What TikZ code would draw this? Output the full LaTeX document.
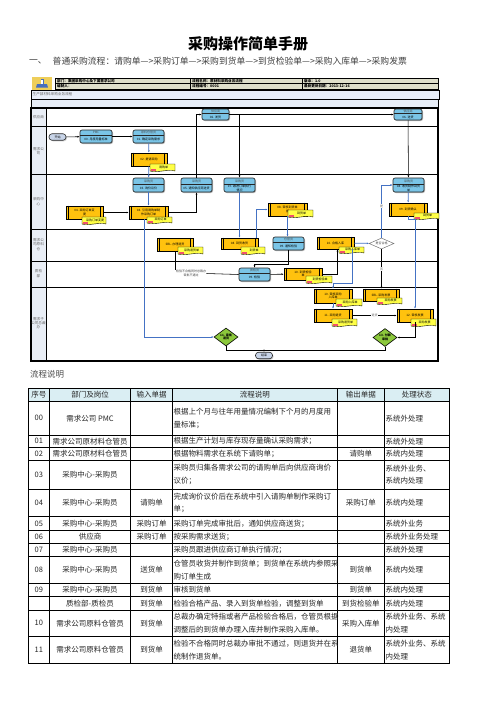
\documentclass[tikz,border=0pt]{standalone}
\usepackage{fontspec}
\setmainfont{Noto Sans CJK SC}
\usetikzlibrary{shapes.geometric,calc,arrows.meta,shadows}
\definecolor{bluef}{RGB}{122,196,230}
\definecolor{yelf}{RGB}{255,194,14}
\definecolor{tagf}{RGB}{255,255,70}
\definecolor{tagr}{RGB}{240,80,110}
\definecolor{greenf}{RGB}{140,200,60}
\definecolor{hdrf}{RGB}{222,222,202}
\definecolor{bandf}{RGB}{232,238,248}
\definecolor{lanef}{RGB}{233,238,246}
\definecolor{theadf}{RGB}{218,238,243}
\definecolor{bline}{RGB}{68,114,196}
\definecolor{ovalf}{RGB}{200,212,232}
\definecolor{logoy}{RGB}{238,206,90}
\definecolor{logob}{RGB}{70,110,190}
\tikzset{
  boxtxt/.style={font=\fontsize{3}{3.6}\selectfont, inner sep=0pt, align=center, text=black},
  hdtxt/.style={font=\fontsize{3.6}{4}\selectfont\bfseries, inner sep=0pt, anchor=west, text=black},
  lanetxt/.style={font=\fontsize{3.6}{4.3}\selectfont, inner sep=0pt, align=center, text=black!60},
  bbx/.style={draw=black!85, line width=0.65pt, rounded corners=2pt, fill=bluef, inner sep=0pt,
     drop shadow={shadow xshift=1pt, shadow yshift=-1pt, fill=black!45, opacity=0.6}},
  ybx/.style={draw=black, line width=0.6pt, fill=yelf, inner sep=0pt},
  tagst/.style={draw=black, line width=0.4pt, fill=tagf},
  endst/.style={draw=black!85, line width=0.6pt, rounded corners=3pt, fill=ovalf, inner sep=0pt,
     minimum width=17pt, minimum height=6.5pt, font=\fontsize{3}{3.6}\selectfont,
     drop shadow={shadow xshift=1pt, shadow yshift=-1pt, fill=black!30, opacity=0.6}},
  gdia/.style={diamond, draw=black, line width=0.6pt, fill=greenf, inner sep=0pt, aspect=1.3,
     minimum width=24pt, minimum height=18pt, align=center, font=\fontsize{3}{3.6}\selectfont\bfseries},
  wdia/.style={diamond, draw=black!55, line width=0.5pt, fill=white, inner sep=0pt, aspect=2.3,
     minimum width=25pt, minimum height=11pt, font=\fontsize{3}{3.6}\selectfont, text=black!70},
  bk/.style={draw=black, line width=0.55pt},
  bl/.style={draw=bline, line width=0.75pt},
  lbl/.style={fill=white, inner sep=0.3pt, font=\fontsize{3}{3.6}\selectfont, text=black!60},
  notetxt/.style={font=\fontsize{3}{3.6}\selectfont, inner sep=0.3pt, align=center, text=black!75, fill=white},
  celltxt/.style={font=\fontsize{7.5}{12.7}\selectfont, inner sep=0pt, text=black!85},
  tline/.style={draw=black, line width=0.6pt},
}
\newcounter{cellno}
\newcommand\mycell[3]{\stepcounter{cellno}\node[celltxt, align=center] (cell\arabic{cellno}) at (#1,#2) {#3};}
\newcommand\mycellL[3]{\stepcounter{cellno}\node[celltxt, align=left, anchor=west] (cell\arabic{cellno}) at (#1,#2) {#3};}
\newcommand\bluebox[7]{%
  \node[bbx, minimum width=#4pt, minimum height=#5pt] (#1) at (#2,#3) {};
  \draw[line width=0.45pt, black!85] ($(#1.north west)!0.42!(#1.south west)$) -- ($(#1.north east)!0.42!(#1.south east)$);
  \node[boxtxt, text=black!70] (#1h) at ($(#1.north)!0.22!(#1.south)$) {#6};
  \node[boxtxt] (#1b) at ($(#1.north)!0.71!(#1.south)$) {#7};}
\newcommand\ybox[6]{%
  \node[ybx, minimum width=#4pt, minimum height=#5pt] (#1) at (#2,#3) {};
  \draw[line width=0.5pt] ([xshift=3pt]#1.north west) -- ([xshift=3pt]#1.south west);
  \draw[line width=0.5pt] ([xshift=-3pt]#1.north east) -- ([xshift=-3pt]#1.south east);
  \node[boxtxt] (#1t) at (#1) {#6};}
\newcommand\tagbox[6]{%
  \draw[tagst] (#2,#3) -- (#2+#4,#3) -- (#2+#4,#3+#5) .. controls (#2+0.7*#4,#3+#5-2) and (#2+0.3*#4,#3+#5+2) .. (#2,#3+#5) -- cycle;
  \fill[tagr] (#2+1,#3+#5-2.2) rectangle (#2+6,#3+#5-0.5);
  \node[boxtxt] (#1) at (#2+#4/2+1,#3+#5/2-0.6) {#6};}
\newcommand\arr{—>}
\begin{document}
\begin{tikzpicture}[x=1pt, y=-1pt, >={Latex[length=2.2pt,width=1.8pt]}]
\useasboundingbox (0,0) rectangle (496,702);
\fill[white] (0,0) rectangle (496,702);
% title
\node[font=\fontsize{15}{16}\selectfont\bfseries, inner sep=0pt] (title) at (248,44) {采购操作简单手册};
\node[font=\fontsize{8.8}{10}\selectfont, text=black!75, inner sep=0pt, anchor=west] (sub0) at (29,61.5) {一、};
\node[font=\fontsize{8.8}{10}\selectfont, text=black!75, inner sep=0pt, anchor=west] (sub1) at (52.5,61.5) {普通采购流程：请购单\arr 采购订单\arr 采购到货单\arr 到货检验单\arr 采购入库单\arr 采购发票};
% logo
\fill[logoy] (32,77) rectangle (52,89.5);
\fill[logob] (40.5,78.5) rectangle (43.5,84);
\fill[logob] (37,84) -- (47,84) -- (48,87.5) -- (36,87.5) -- cycle;
\fill[white] (41.2,79.5) rectangle (42.8,83.5);
\node[inner sep=0pt] (logo) at (42,83) {};
% header table
\fill[hdrf] (55,78) rectangle (438,89);
\draw[line width=0.6pt] (55,78) rectangle (438,89);
\draw[line width=0.4pt] (55,83.5) -- (438,83.5) (190,78) -- (190,89) (302,78) -- (302,89);
\node[hdtxt] (h1) at (57,80.9) {部门：集团采购中心及下属需求公司};
\node[hdtxt] (h2) at (57,86.3) {编制人：};
\node[hdtxt] (h3) at (192,80.9) {流程名称：原材料采购业务流程};
\node[hdtxt] (h4) at (192,86.3) {流程编号：0001};
\node[hdtxt] (h5) at (304,80.9) {版本：1.0};
\node[hdtxt] (h6) at (304,86.3) {最新更新日期：2013-12-16};
% bands
\draw[fill=bandf, line width=0.5pt] (31,90) rectangle (439,99);
\draw[fill=bandf, line width=0.5pt] (31,99) rectangle (438,108);
\node[lanetxt, anchor=west] (band) at (32.5,94.5) {生产部材料采购业务流程};
% swimlanes
\fill[lanef] (31,108) rectangle (46,361);
\draw[line width=0.6pt] (46,108) -- (46,361);
\foreach \yy in {126.7,174,229.3,261,287} \draw[line width=0.6pt] (31,\yy) -- (438,\yy);
\draw[line width=1.1pt] (31,108) rectangle (438,361);
\node[lanetxt] (L1) at (38.5,117) {供应商};
\node[lanetxt] (L2) at (38.5,151) {需求公\\司};
\node[lanetxt] (L3) at (38.5,201.5) {采购中\\心};
\node[lanetxt] (L4) at (38.5,244.5) {需求公\\司原料\\仓};
\node[lanetxt] (L5) at (38.5,273.5) {质检\\部};
\node[lanetxt] (L6) at (38.5,323) {需求子\\公司总裁\\办};
% nodes
\node[endst] (start) at (57.5,137) {开始};
\node[endst] (end) at (264,355.5) {结束};
\bluebox{b00}{96}{136.5}{32}{13}{PMC}{00. 月度用量标准}
\bluebox{b01}{148.5}{136.5}{31}{13}{原料仓管员}{01. 确定采购需求}
\ybox{y02}{149}{159.5}{36}{13}{02. 提请采购}
\tagbox{t02}{150}{164}{25}{7}{请购单}
\bluebox{s06}{215.5}{114.5}{27}{11}{供应商}{06. 发货}
\bluebox{b03}{148.5}{185}{31}{14}{采购员}{03. 询价议价}
\bluebox{b05}{196.5}{185}{31}{14}{采购员}{05. 通知供应商送货}
\bluebox{b07}{239.5}{185}{31}{14}{采购员}{07. 跟进订单执行\\情况}
\ybox{ych}{84.5}{212.5}{37}{13}{04. 采购订单变\\更}
\tagbox{tch}{82}{217}{24}{7}{采购订单变更}
\ybox{y04}{148.5}{212.5}{39}{13}{04. 引用请购单制\\作采购订单}
\tagbox{t04}{147}{217}{25}{6}{采购订单}
\ybox{yret}{175}{244.5}{36}{13}{SBL. 办理退货}
\tagbox{tret}{178}{247}{25}{7}{采购退货单}
\ybox{yrcv}{239.5}{243.5}{37}{11}{08. 到货收货}
\tagbox{trcv}{241}{247}{24}{7}{到货单}
\node[notetxt] (nt) at (191,273.5) {检验不合格同时总裁办\\审批不通过};
\bluebox{bqc}{254.5}{274.5}{31}{13}{质检员}{09. 检验}
\node[gdia] (dg1) at (226,337) {11. 审批\\退货};
\bluebox{sup2}{408}{114.5}{28}{11}{供应商}{06. 送货}
\bluebox{b08}{408.5}{185}{31}{14}{采购员}{08. 收货制作到货\\单}
\ybox{y09}{408}{209.5}{38}{13}{09. 到货确认}
\tagbox{t09}{414}{213}{25}{6}{到货单}
\ybox{y09b}{287.5}{209.5}{39}{13}{08. 审核到货单\\据}
\tagbox{t09b}{288}{210}{25}{7}{到货单}
\bluebox{bnot}{288.5}{243.5}{31}{13}{仓管员}{09. 通知检验}
\ybox{yin}{335.5}{243}{37}{12}{10. 合格入库}
\tagbox{tin}{339}{247}{25}{6}{采购入库单}
\node[wdia] (dq) at (381.5,243.5) {是否合格};
\ybox{yqc}{303}{274}{38}{12}{10. 到货检验\\单}
\tagbox{tqc}{306}{276}{26}{7}{到货检验单}
\ybox{yaud}{333}{296}{38}{14}{10. 审核采购\\入库单}
\tagbox{taud}{336}{299}{26}{7}{采购入库单}
\ybox{yinv}{381}{295}{36}{12}{SBL. 采购发票}
\tagbox{tinv}{377}{298}{25}{6}{采购发票}
\ybox{yrt}{333}{315.5}{38}{13}{11. 采购退货}
\tagbox{trt}{332}{319}{25}{7}{采购退货单}
\ybox{ychk}{415}{315.5}{36}{13}{12. 审核发票}
\tagbox{tchk}{411}{319}{25}{7}{采购发票}
\node[gdia] (dg2) at (385,337.5) {13. 付款\\审批};
% connectors
\draw[bk,->] (start) -- (b00);
\draw[bk,->] (b00) -- (b01);
\draw[bl,->] (b01) -- (y02);
\draw[bl,->] (y02) -- (b03);
\draw[bl,->] (b03) -- (y04);
\draw[bk,->] (ych) -- (y04);
\draw[bk,->] (y04.east) -| (b05.south);
\draw[bk,->] (b05.north) |- (s06.west);
\draw[bk,->] (s06.east) -- (sup2.west);
\draw[bk,->] (b07.north |- s06.east) -- (b07.north);
\draw[bk,->] (sup2) -- (b08);
\draw[bl,->] (b07) -- (yrcv);
\draw[bl,->] ([xshift=-2pt]yrcv.north east) |- (y09b.west);
\draw[bl,->] (y09b.south) -- (y09b.south |- bnot.north);
\draw[bk,->] (bnot.south) -- ++(0,14) -| (bqc.north);
\draw[bk,->] (bqc) -- (yqc);
\draw[bk] (bqc.west) -- (nt.east);
\draw[bk] (nt.north -| yret.south) -- (yret.south);
\draw[bk,->] (yqc.east) -| ([xshift=2pt]yin.south);
\draw[bl,->] (yin) -- (dq);
\draw[bl,->] (dq.north) |- node[pos=0.3,lbl]{是} (b08.west);
\draw[bk,->] (dq.south) -- node[lbl]{否} (dq.south |- yinv.north);
\draw[bl,->] (b08) -- (y09);
\draw[bl,->] (y09.south) -- ++(0,3) -| (ychk.north);
\draw[bl,->] ([xshift=-2pt]yin.south east) -- ++(0,34) -| (yaud.north);
\draw[bl,->] (yaud) -- (yrt);
\draw[bk,->] (yrt) -- node[lbl]{退货} (ychk);
\draw[bk,->] (ychk.south) |- (dg2.east);
\draw[bl,->] ([xshift=-4.5pt]y04.south) |- (dg1.west);
\coordinate (mj) at (264,350);
\draw[bk] (dg1.south) |- (mj);
\draw[bk] (dg2.south) |- (mj);
\draw[bk,->] (mj) -- (end.north);
% section label
\node[font=\fontsize{8.5}{10}\selectfont, text=black!70, inner sep=0pt, anchor=west] (sec) at (30,374.5) {流程说明};
% table
\fill[theadf] (28.3,388.3) rectangle (449.3,401.7);
\foreach \yy in {401.7,435,447.3,460,489.3,516.7,530.7,543.3,556.7,583.3,596.7,610,636.7} \draw[tline] (28.3,\yy) -- (449.3,\yy);
\foreach \xx in {49.3,130.7,172.3,337.3,384.3} \draw[tline] (\xx,388.3) -- (\xx,663.3);
\draw[line width=0.9pt] (28.3,388.3) rectangle (449.3,663.3);
\mycell{38.8}{395}{序号}\mycell{90}{395}{部门及岗位}\mycell{151.5}{395}{输入单据}\mycell{254.8}{395}{流程说明}\mycell{360.8}{395}{输出单据}\mycell{416.8}{395}{处理状态}
% 00
\mycell{38.8}{418.3}{00}\mycell{90}{418.3}{需求公司 PMC}
\mycellL{173.5}{418.3}{根据上个月与往年用量情况编制下个月的月度用\\量标准；}
\mycellL{385.5}{418.3}{系统外处理}
% 01
\mycell{38.8}{441.2}{01}\mycell{90}{441.2}{需求公司原材料仓管员}
\mycellL{173.5}{441.2}{根据生产计划与库存现存量确认采购需求；}
\mycellL{385.5}{441.2}{系统外处理}
% 02
\mycell{38.8}{453.7}{02}\mycell{90}{453.7}{需求公司原材料仓管员}
\mycellL{173.5}{453.7}{根据物料需求在系统下请购单；}
\mycell{360.8}{453.7}{请购单}\mycellL{385.5}{453.7}{系统内处理}
% 03
\mycell{38.8}{474.7}{03}\mycell{90}{474.7}{采购中心-采购员}
\mycellL{173.5}{474.7}{采购员归集各需求公司的请购单后向供应商询价\\议价；}
\mycellL{385.5}{474.7}{系统外业务、\\系统内处理}
% 04
\mycell{38.8}{503}{04}\mycell{90}{503}{采购中心-采购员}\mycell{151.5}{503}{请购单}
\mycellL{173.5}{503}{完成询价议价后在系统中引入请购单制作采购订\\单；}
\mycell{360.8}{503}{采购订单}\mycellL{385.5}{503}{系统内处理}
% 05
\mycell{38.8}{523.7}{05}\mycell{90}{523.7}{采购中心-采购员}\mycell{151.5}{523.7}{采购订单}
\mycellL{173.5}{523.7}{采购订单完成审批后，通知供应商送货；}
\mycellL{385.5}{523.7}{系统外业务}
% 06
\mycell{38.8}{537}{06}\mycell{90}{537}{供应商}\mycell{151.5}{537}{采购订单}
\mycellL{173.5}{537}{按采购需求送货；}
\mycellL{385.5}{537}{系统外业务处理}
% 07
\mycell{38.8}{550}{07}\mycell{90}{550}{采购中心-采购员}
\mycellL{173.5}{550}{采购员跟进供应商订单执行情况；}
\mycellL{385.5}{550}{系统外处理}
% 08
\mycell{38.8}{570}{08}\mycell{90}{570}{采购中心-采购员}\mycell{151.5}{570}{送货单}
\mycellL{173.5}{570}{仓管员收货并制作到货单；到货单在系统内参照采\\购订单生成}
\mycell{360.8}{570}{到货单}\mycellL{385.5}{570}{系统内处理}
% 09
\mycell{38.8}{590}{09}\mycell{90}{590}{采购中心-采购员}\mycell{151.5}{590}{到货单}
\mycellL{173.5}{590}{审核到货单}
\mycell{360.8}{590}{到货单}\mycellL{385.5}{590}{系统内处理}
% QC
\mycell{90}{603.3}{质检部-质检员}\mycell{151.5}{603.3}{到货单}
\mycellL{173.5}{603.3}{检验合格产品、录入到货单检验，调整到货单}
\mycell{360.8}{603.3}{到货检验单}\mycellL{385.5}{603.3}{系统内处理}
% 10
\mycell{38.8}{623.3}{10}\mycell{90}{623.3}{需求公司原料仓管员}\mycell{151.5}{623.3}{到货单}
\mycellL{173.5}{623.3}{总裁办确定特指或者产品检验合格后，仓管员根据\\调整后的到货单办理入库并制作采购入库单。}
\mycell{360.8}{623.3}{采购入库单}\mycellL{385.5}{623.3}{系统外业务、系统\\内处理}
% 11
\mycell{38.8}{650}{11}\mycell{90}{650}{需求公司原料仓管员}\mycell{151.5}{650}{到货单}
\mycellL{173.5}{650}{检验不合格同时总裁办审批不通过，则退货并在系\\统制作退货单。}
\mycell{360.8}{650}{退货单}\mycellL{385.5}{650}{系统外业务、系统\\内处理}
\end{tikzpicture}
\end{document}
